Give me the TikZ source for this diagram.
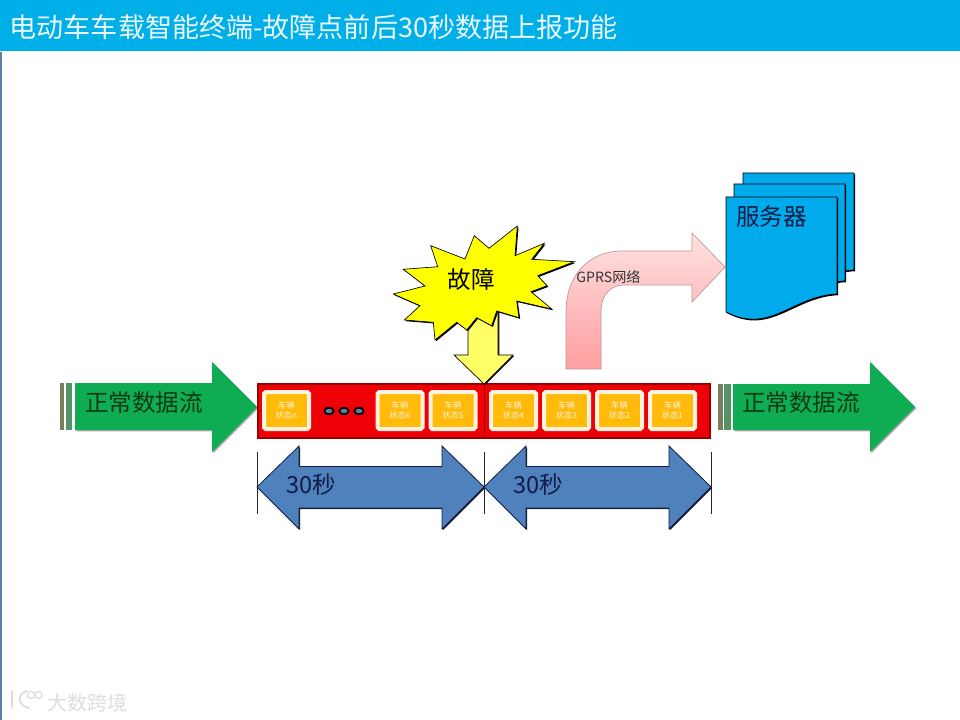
\documentclass[tikz,border=0pt]{standalone}
\usepackage{xcolor}
\usepackage{fontspec}
\setmainfont{Noto Sans CJK SC}
\usepackage{tikz}
\usetikzlibrary{shapes.geometric, shadows, positioning}
\definecolor{myhdr}{RGB}{0,174,232}
\definecolor{myedge}{RGB}{90,130,170}
\definecolor{mygreen}{RGB}{16,172,84}
\definecolor{mydarkgreen}{RGB}{14,58,20}
\definecolor{mybarone}{RGB}{118,128,96}
\definecolor{mybartwo}{RGB}{84,148,100}
\definecolor{myred}{RGB}{238,0,6}
\definecolor{mydarkred}{RGB}{150,0,0}
\definecolor{mygold}{RGB}{255,186,10}
\definecolor{mycream}{RGB}{255,243,224}
\definecolor{myblue}{RGB}{79,129,189}
\definecolor{mynavy}{RGB}{16,28,70}
\definecolor{myyellow}{RGB}{255,255,0}
\definecolor{mypaleyellow}{RGB}{255,255,102}
\definecolor{mypinktop}{RGB}{255,226,226}
\definecolor{mypinkbot}{RGB}{255,158,160}
\definecolor{mypinkedge}{RGB}{190,150,150}
\definecolor{mysky}{RGB}{0,170,235}
\definecolor{mymark}{RGB}{222,222,222}
\tikzset{
  title/.style={font=\fontsize{20.3}{24}\selectfont, text=white!92!cyan, inner sep=0pt, anchor=west},
  flowtext/.style={font=\fontsize{17.7}{21}\selectfont, text=mydarkgreen, inner sep=0pt},
  bigtext/.style={font=\fontsize{17.7}{21}\selectfont, text=mynavy, inner sep=0pt},
  greenarrow/.style={fill=mygreen, drop shadow={shadow xshift=1pt, shadow yshift=-1pt, fill=black, opacity=0.35}},
  bluearrow/.style={fill=myblue, draw=mynavy, line width=0.6pt, drop shadow={shadow xshift=0.8pt, shadow yshift=-0.8pt, fill=black, opacity=0.9}},
  redbar/.style={rectangle, fill=myred, draw=mydarkred, line width=1.5pt, minimum width=339.5pt, minimum height=40pt, inner sep=0pt, drop shadow={shadow xshift=0.6pt, shadow yshift=-0.7pt, fill=black, opacity=1}},
  card/.style={rectangle, fill=mygold, draw=mycream, line width=3pt, rounded corners=1.2pt, minimum width=33.75pt, minimum height=27.75pt, inner sep=0pt, align=center, text=mycream, font=\fontsize{6.2}{7.6}\selectfont},
  dotnode/.style={ellipse, fill=myblue!60!gray, draw=black, line width=1.4pt, minimum width=7pt, minimum height=5pt, inner sep=0pt},
  tick/.style={draw=black!85, line width=0.7pt},
  burst/.style={fill=myyellow, draw=black, line width=0.5pt, drop shadow={shadow xshift=0.9pt, shadow yshift=-0.9pt, fill=black, opacity=1}},
  downarrow/.style={fill=mypaleyellow, draw=black, line width=0.5pt, drop shadow={shadow xshift=1pt, shadow yshift=-0.6pt, fill=black, opacity=1}},
  page/.style={fill=mysky, draw=black, line width=0.6pt, drop shadow={shadow xshift=0.9pt, shadow yshift=-0.9pt, fill=black, opacity=1}}
}
\begin{document}
\begin{tikzpicture}[x=0.75pt, y=-0.75pt]
  \useasboundingbox (0,0) rectangle (960,720);
  % Header
  \fill[white] (0,0) rectangle (960,720);
  \fill[myedge] (0,52) rectangle (1.5,720);
  \fill[myhdr] (0,0) rectangle (960,51.5);
  \node[title] (head) at (9.5,27) {电动车车载智能终端-故障点前后30秒数据上报功能};

  % Green arrows
  \fill[mybarone] (60,383) rectangle (64,430);
  \fill[mybartwo] (66,383) rectangle (72,430);
  \path[greenarrow] (75,383) -- (212,383) -- (212,362) -- (257,407) -- (212,452) -- (212,430) -- (75,430) -- cycle;
  \node[flowtext] (flowl) at (144,403) {正常数据流};

  \fill[mybarone] (718,384) rectangle (723,430);
  \fill[mybartwo] (724,384) rectangle (731,430);
  \path[greenarrow] (733,384) -- (870,384) -- (870,362) -- (915,407) -- (870,452) -- (870,430) -- (733,430) -- cycle;
  \node[flowtext] (flowr) at (801,403) {正常数据流};

  % Data bar
  \node[redbar] (bar) at (484,411) {};
  \draw[mydarkred, line width=0.6pt] (bar.north) -- (bar.south);
  \foreach \x/\i in {286.5/n, 400/6, 453/5, 513.5/4, 566.5/3, 619.5/2, 672.5/1}
    \node[card] (state\i) at (\x,410.5) {车辆\\状态\i};
  \foreach \x/\i in {329/a, 344/b, 359/c}
    \node[dotnode] (dot\i) at (\x,411) {};

  % Time spans
  \foreach \x/\i in {257/a, 484/b}
    \path[bluearrow] (\x,487) -- (\x+42,446) -- (\x+42,466.5) -- (\x+185,466.5) -- (\x+185,446) -- (\x+227,487) -- (\x+185,529) -- (\x+185,508) -- (\x+42,508) -- (\x+42,529) -- cycle;
  \foreach \x/\i in {257/a, 484/b, 711/c} {
    \coordinate (tick\i t) at (\x,452);
    \coordinate (tick\i b) at (\x,514);
    \draw[tick] (tick\i t) -- (tick\i b);
  }
  \node[bigtext] (spana) at (311,485) {30秒};
  \node[bigtext] (spanb) at (538,485) {30秒};

  % Fault
  \path[downarrow] (468,300) -- (498,300) -- (498,355) -- (513,355) -- (484,384) -- (454,355) -- (468,355) -- cycle;
  \path[burst] (517.3,226) -- (515,255.7) -- (544.3,243.3) -- (531.7,259.3) -- (574.3,261.7) -- (537.7,275.7)
    -- (547,285.7) -- (531,291.7) -- (551.7,309) -- (516.7,301) -- (519,317.7) -- (496.7,311) -- (491.7,325.7)
    -- (476.7,317.7) -- (466.7,330) -- (456.7,322.3) -- (435,340) -- (433.3,322.3) -- (404.3,320) -- (420,305.7)
    -- (393.3,294) -- (425,286) -- (403.3,269.3) -- (437.7,266.7) -- (430.7,245.7) -- (465,259) -- (474.3,235.7)
    -- (489,248.3) -- cycle;
  \node[font=\fontsize{17.7}{21}\selectfont, inner sep=0pt] (fault) at (471.5,279) {故障};

  % Upload
  \path[top color=mypinktop, bottom color=mypinkbot, draw=mypinkedge, line width=0.5pt] (566,369) -- (566,312)
    .. controls (566,274) and (590,251) .. (622,251) -- (692,251) -- (692,233) -- (725,267) -- (692,302)
    -- (692,285) -- (624,285) .. controls (610,285) and (601,296) .. (601,310) -- (601,369) -- cycle;
  \node[font=\fontsize{10.6}{12}\selectfont, inner sep=0pt, text=black!80] (gprs) at (608.5,277) {GPRS网络};

  % Server
  \foreach \dx/\dy in {17/-24, 8/-13, 0/0}
    \path[page, shift={(\dx,\dy)}] (726,197) -- (837,197) -- (837,294)
      .. controls (792,296) and (770,335) .. (726,312) -- cycle;
  \node[bigtext, anchor=west] (server) at (736,217) {服务器};

  % Watermark
  \draw[mymark, line width=1.4pt, line cap=round] (12,691) -- (12,708);
  \draw[mymark, line width=1.4pt, line cap=round] (27,691) .. controls (17,693) and (17,706) .. (29,708);
  \draw[mymark, line width=1pt] (31,695) circle [radius=3.5];
  \draw[mymark, line width=1pt] (38.5,695) circle [radius=3.5];
  \node[font=\fontsize{15}{18}\selectfont, inner sep=0pt, text=mymark] (mark) at (87,703) {大数跨境};
\end{tikzpicture}
\end{document}
